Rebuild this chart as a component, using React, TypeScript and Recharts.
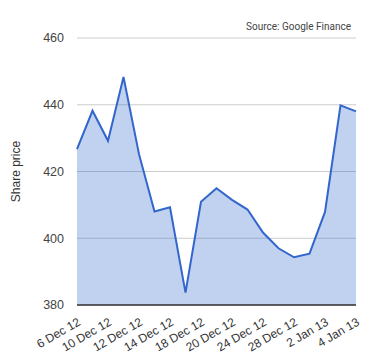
import React from 'react';
import { AreaChart, Area, XAxis, YAxis, CartesianGrid } from 'recharts';

const dates = [
  '6 Dec 12', '7 Dec 12', '10 Dec 12', '11 Dec 12', '12 Dec 12', '13 Dec 12',
  '14 Dec 12', '17 Dec 12', '18 Dec 12', '19 Dec 12', '20 Dec 12', '21 Dec 12',
  '24 Dec 12', '27 Dec 12', '28 Dec 12', '31 Dec 12', '2 Jan 13', '3 Jan 13', '4 Jan 13',
];
const prices = [
  426.7, 438.2, 429.2, 448.3, 425.2, 408.0, 409.3, 383.7, 410.9, 415.0,
  411.5, 408.6, 401.7, 397.0, 394.3, 395.4, 407.9, 439.8, 438.0,
];
const yTicks = [380, 400, 420, 440, 460];

const data = dates.map((d, i) => ({ date: d, price: prices[i] }));

const FONT = 'Arial, "Liberation Sans", sans-serif';

export default function App() {
  return (
    <div style={{ position: 'absolute', left: 0, top: 0, width: 380, height: 360, background: '#fff' }}>
      <div
        style={{
          position: 'absolute',
          right: 29,
          top: 21,
          fontFamily: 'Roboto, sans-serif',
          fontSize: 10,
          color: '#444',
          whiteSpace: 'nowrap',
        }}
      >
        Source: Google Finance
      </div>
      <AreaChart width={380} height={360} data={data} margin={{ top: 38, right: 24, left: 17, bottom: 0 }}>
        <CartesianGrid horizontal vertical={false} stroke="#ccc" strokeWidth={1} />
        <XAxis
          dataKey="date"
          interval={1}
          height={55}
          angle={-30}
          textAnchor="end"
          tickLine={false}
          tickSize={0}
          tickMargin={12}
          axisLine={{ stroke: '#333', strokeWidth: 1.5 }}
          tick={{ fontSize: 12, fill: '#333', fontFamily: FONT }}
        />
        <YAxis
          domain={[380, 460]}
          ticks={yTicks}
          width={60}
          axisLine={false}
          tickLine={false}
          tickSize={0}
          tickMargin={13}
          tick={{ fontSize: 12.5, fill: '#444', fontFamily: FONT }}
          label={{
            content: (props: any) => {
              const vb = props.viewBox || { x: 17, y: 38, width: 60, height: 267 };
              const cx = 20;
              const cy = vb.y + vb.height / 2;
              return (
                <text
                  x={cx}
                  y={cy}
                  transform={`rotate(-90 ${cx} ${cy})`}
                  textAnchor="middle"
                  fontSize={12}
                  fill="#333"
                  fontFamily={FONT}
                >
                  Share price
                </text>
              );
            },
          }}
        />
        <Area
          type="linear"
          dataKey="price"
          stroke="#3366cc"
          strokeWidth={2}
          fill="#3366cc"
          fillOpacity={0.3}
          isAnimationActive={false}
          dot={false}
          activeDot={false}
        />
      </AreaChart>
    </div>
  );
}
